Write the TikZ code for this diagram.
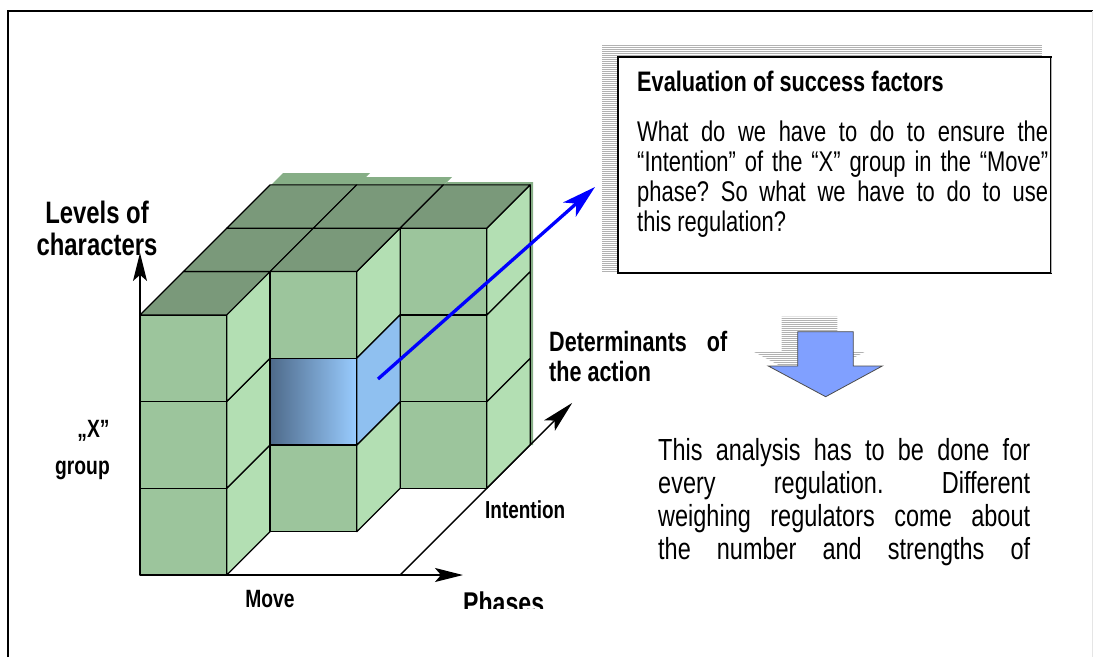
\documentclass[tikz,border=0pt]{standalone}
\usepackage{fontspec}
\setmainfont{Liberation Sans}[FakeStretch=0.77]
\usetikzlibrary{arrows.meta}
\frenchspacing
\definecolor{topgreen}{RGB}{122,153,122}
\definecolor{frontgreen}{RGB}{156,197,156}
\definecolor{sidegreen}{RGB}{179,223,179}
\definecolor{stripgreen}{RGB}{134,174,134}
\definecolor{celldark}{RGB}{78,106,138}
\definecolor{cellmid}{RGB}{122,162,208}
\definecolor{celllight}{RGB}{153,204,255}
\definecolor{cellside}{RGB}{143,192,240}
\definecolor{downblue}{RGB}{128,160,255}
\begin{document}
\begin{tikzpicture}[x=1pt,y=-1pt]
	\def\sz{86.7pt}
	\def\dz{43.35pt}
	\tikzstyle{edge} = [draw=black, line width=1.2pt, line join=round];
	\tikzstyle{frontface} = [edge, fill=frontgreen];
	\tikzstyle{sideface} = [edge, fill=sidegreen];
	\tikzstyle{topface} = [edge, fill=topgreen];
	\tikzstyle{axis} = [draw=black, line width=1.3pt, -{Stealth[length=28pt,width=14pt,inset=6pt]}];
	\tikzstyle{axlabel} = [font={\bfseries\fontsize{25}{25}\selectfont}, inner sep=0, anchor=base];
	\tikzstyle{biglabel} = [font={\bfseries\fontsize{30}{30}\selectfont}, inner sep=0, anchor=base];
	\tikzstyle{boxtxt} = [font={\fontsize{28.5}{30}\selectfont}, inner sep=0, anchor=base west];
	\tikzstyle{notetxt} = [font={\fontsize{30.5}{33}\selectfont}, inner sep=0, anchor=base west];
	\tikzstyle{stripe} = [draw=gray!60, line width=0.7pt];
	\tikzstyle{downarrow} = [draw=black!70, line width=0.8pt, fill=downblue, line join=miter];
	\useasboundingbox (0,0) rectangle (1093,657);
	\draw[line width=2pt] (8,657) -- (8,11) -- (1093,11);
	\draw[gray!20] (1092.5,11) -- (1092.5,657);
	\fill[stripgreen] (270,186) -- (283,173) -- (370,173) -- (357,186) -- cycle;
	\fill[stripgreen] (357,186) -- (363,177) -- (452,177) -- (443,186) -- cycle;
	\fill[stripgreen] (443,186) -- (447,182) -- (533,182) -- (533,445) -- (530,445) -- (530,186) -- cycle;
	\begin{scope}[shift={(140,575)}, x={(\sz,0pt)}, y={(0pt,\sz)}, z={(\dz,\dz)}]
		\foreach \c in {0,1,2}
		{
			\foreach \j in {0,1,2}
			{
				\filldraw[frontface] (\c,\j,\c) rectangle (\c+1,\j+1,\c);
				\filldraw[sideface] (\c+1,\j,\c) -- (\c+1,\j,\c+1) -- (\c+1,\j+1,\c+1) -- (\c+1,\j+1,\c) -- cycle;
			}
			\foreach \k in {\c,...,2}
			{
				\filldraw[topface] (\c,3,\k) -- (\c+1,3,\k) -- (\c+1,3,\k+1) -- (\c,3,\k+1) -- cycle;
			}
		}
		\shade[left color=celldark, middle color=cellmid, right color=celllight] (1,1,1) rectangle (2,2,1);
		\draw[edge] (1,1,1) rectangle (2,2,1);
		\filldraw[edge, fill=cellside] (2,1,1) -- (2,1,2) -- (2,2,2) -- (2,2,1) -- cycle;
		\coordinate (lvbase) at (0,3,0);
		\coordinate (lvtip) at (0,3.715,0);
		\coordinate (phbase) at (0,0,0);
		\coordinate (phtip) at (3.725,0,0);
		\coordinate (inbase) at (3,0,0);
		\coordinate (intip) at (3,0,3.97);
	\end{scope}
	\draw[axis] (lvbase) -- (lvtip);
	\draw[axis] (phbase) -- (phtip);
	\draw[axis, -{Stealth[length=32pt,width=15pt,inset=7pt]}] (inbase) -- (intip);
	\node[biglabel, font={\bfseries\fontsize{31}{31}\selectfont}] (levels) at (97,223) {Levels of};
	\node[biglabel, font={\bfseries\fontsize{31}{31}\selectfont}] (chars) at (97,255) {characters};
	\node[axlabel] (xlabel) at (93.5,437) {„X”};
	\node[axlabel] (grouplabel) at (82.5,474) {group};
	\node[axlabel] (move) at (270,607) {Move};
	\node[axlabel, anchor=base west, font={\bfseries\fontsize{24.6}{25}\selectfont}] (intention) at (485,518) {Intention};
	\begin{scope}
		\clip (440,560) rectangle (600,608);
		\node[biglabel, anchor=base west] (phases) at (463,613) {Phases};
	\end{scope}
	\node[biglabel, anchor=base west, font={\bfseries\fontsize{28}{30}\selectfont}] (determ) at (549,351) {\makebox[178pt][s]{Determinants of}};
	\node[biglabel, anchor=base west, font={\bfseries\fontsize{28}{30}\selectfont}] (action) at (549,381) {the action};
	\foreach \yy in {45,47,...,271}
		\draw[stripe] (602,\yy) -- (617,\yy);
	\foreach \yy in {45,47,...,55}
		\draw[stripe] (617,\yy) -- (1042,\yy);
	\node[draw, line width=2pt, fill=white, minimum width=433pt, minimum height=216pt, anchor=north west, inner sep=0] (evalbox) at (617,56) {};
	\draw[gray!60, line width=1pt] (1051.8,58) -- (1051.8,273);
	\node[boxtxt, font={\bfseries\fontsize{28.2}{30}\selectfont}] (evaltitle) at (637,91) {Evaluation of success factors};
	\def\evallines{What do we have to do to ensure the,“Intention” of the “X” group in the “Move”,phase? So what we have to do to use}
	\newcounter{boxrow}
	\setcounter{boxrow}{0}
	\foreach \txt in \evallines
	{
		\node[boxtxt,name=evalrow\theboxrow] at (637,141+30*\theboxrow) {\makebox[411pt][s]{\txt}};
		\addtocounter{boxrow}{1};
	}
	\node[boxtxt] (evalrow3) at (637,231) {this regulation?};
	\coordinate (bstart) at (378,379);
	\coordinate (btip) at (595,187);
	\draw[line width=3.3pt, blue, -{Stealth[length=34pt,width=19pt,inset=9pt]}] (bstart) -- (btip);
	\begin{scope}
		\clip[shift={(-16,-15)}] (797.7,331.7) -- (853.3,331.7) -- (853.3,366) -- (882.3,366) -- (825.7,396.7) -- (768.3,366) -- (797.7,366) -- cycle;
		\foreach \yy in {314,316,...,384}
			\draw[stripe] (740,\yy) -- (880,\yy);
	\end{scope}
	\filldraw[downarrow] (797.7,331.7) -- (853.3,331.7) -- (853.3,366) -- (882.3,366) -- (825.7,396.7) -- (768.3,366) -- (797.7,366) -- cycle;
	\def\notelines{This analysis has to be done for,every regulation. Different,weighing regulators come about,the number and strengths of}
	\newcounter{noterow}
	\setcounter{noterow}{0}
	\foreach \txt in \notelines
	{
		\node[notetxt,name=noterow\thenoterow] at (658,460+33.3*\thenoterow) {\makebox[372pt][s]{\txt}};
		\addtocounter{noterow}{1};
	}
\end{tikzpicture}
\end{document}
